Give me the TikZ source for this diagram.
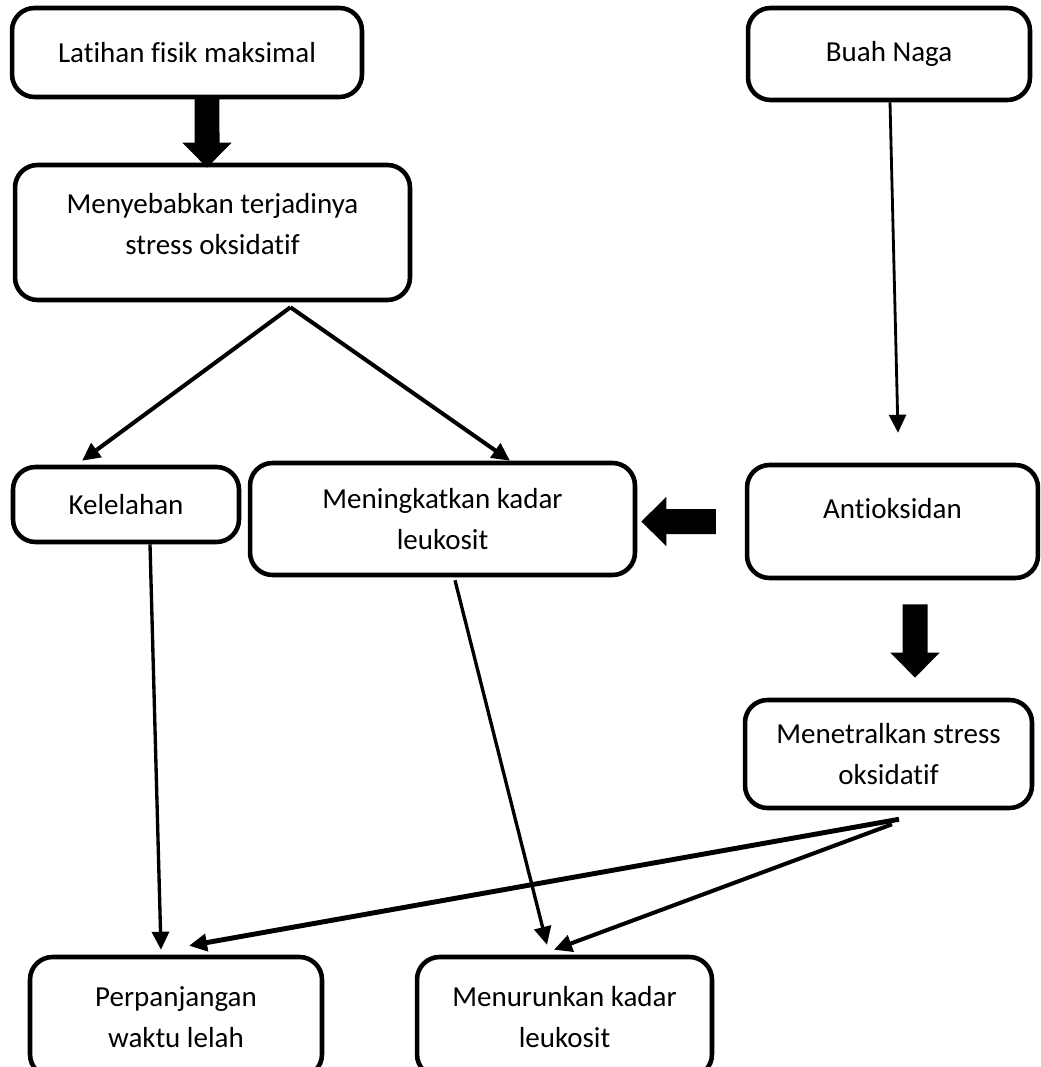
\documentclass[tikz,border=0pt]{standalone}
\usepackage{fontspec}
\setmainfont[RawFeature={-liga}]{Carlito}
\usetikzlibrary{arrows.meta}

\begin{document}
\begin{tikzpicture}[x=0.02cm,y=-0.02cm,
	box/.style={draw, line width=2.6pt, rounded corners=0.45cm, align=center,
		font=\fontsize{16.5}{23}\selectfont},
	thinarrow/.style={line width=1.9pt, -{Triangle[length=0.36cm,width=0.34cm]}},
	blockarrow/.style={line width=0.5cm, -{Triangle[length=0.5cm,width=0.95cm]}}]
		\clip (0,0) rectangle (1040,1067);
		% left column
		\node[box, minimum width=7cm, minimum height=1.78cm] (latihan) at (187,52.5) {Latihan fisik maksimal};
		\node[box, minimum width=7.9cm, minimum height=2.7cm, text depth=0.35cm] (sebab) at (212.5,232.5) {Menyebabkan terjadinya\\stress oksidatif};
		\node[box, minimum width=4.52cm, minimum height=1.5cm] (lelah) at (126,504.5) {Kelelahan};
		\node[box, minimum width=7.7cm, minimum height=2.24cm] (naik) at (442.5,519) {Meningkatkan kadar\\leukosit};
		
		% right column
		\node[box, minimum width=5.64cm, minimum height=1.84cm] (buah) at (889,54) {Buah Naga};
		\node[box, minimum width=5.82cm, minimum height=2.26cm, text depth=0.54cm] (anti) at (892.5,521.5) {Antioksidan};
		\node[box, minimum width=5.74cm, minimum height=2.16cm] (netral) at (888.5,754) {Menetralkan stress\\oksidatif};
		
		% bottom row
		\node[box, minimum width=5.84cm, minimum height=2.4cm] (panjang) at (176,1017) {Perpanjangan\\waktu lelah};
		\node[box, minimum width=5.9cm, minimum height=2.4cm] (turun) at (564.5,1017) {Menurunkan kadar\\leukosit};
		
		% block arrows
		\draw[blockarrow] ([xshift=0.4cm,yshift=0.04cm]latihan.south) -- ([xshift=-0.11cm,yshift=-0.1cm]sebab.north);
		\draw[blockarrow] ([xshift=-0.58cm]anti.west) -- ([xshift=0.08cm,yshift=-0.05cm]naik.east);
		\draw[blockarrow] ([xshift=0.45cm,yshift=-0.48cm]anti.south) -- ([xshift=0.53cm,yshift=0.4cm]netral.north);
		
		% thin arrows
		\draw[thinarrow, line width=1.6pt] ([xshift=0.02cm]buah.south) -- ([xshift=0.11cm,yshift=0.6cm]anti.north);
		\draw[thinarrow, line width=2.3pt] ([xshift=1.56cm,yshift=-0.1cm]sebab.south) -- ([xshift=-0.88cm,yshift=0.08cm]lelah.north);
		\draw[thinarrow, line width=2.3pt] ([xshift=1.56cm,yshift=-0.1cm]sebab.south) -- ([xshift=1.35cm]naik.north);
		\draw[thinarrow] ([xshift=0.48cm]lelah.south) -- ([xshift=-0.3cm,yshift=0.1cm]panjang.north);
		\draw[thinarrow] ([xshift=0.25cm,yshift=-0.06cm]naik.south) -- ([xshift=-0.35cm,yshift=0.2cm]turun.north);
		\draw[thinarrow, line width=2.8pt] ([xshift=0.21cm,yshift=-0.18cm]netral.south) -- ([xshift=0.26cm,yshift=0.18cm]panjang.north);
		\draw[thinarrow, line width=2.3pt] ([xshift=0.07cm,yshift=-0.28cm]netral.south) -- ([xshift=-0.21cm,yshift=0.1cm]turun.north);
\end{tikzpicture}
\end{document}
